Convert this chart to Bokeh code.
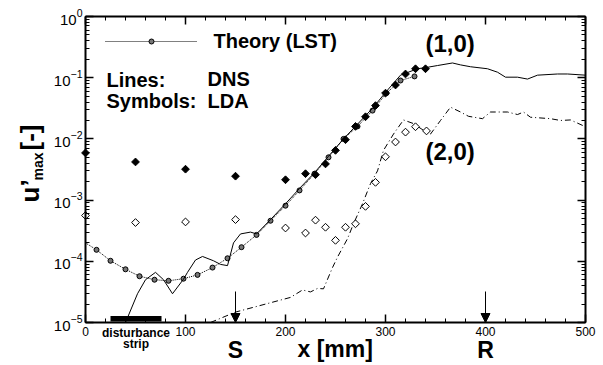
import numpy as np
from bokeh.plotting import figure
from bokeh.models import (LinearAxis, LogAxis, LogTicker, SingleIntervalTicker, Label,
                          Arrow, NormalHead, BoxAnnotation, Range1d)
from bokeh.embed import file_html
from bokeh.resources import INLINE

# ---------------- data ----------------
theory_x = [0, 11, 25, 40, 54, 69, 83, 98, 112, 127, 142, 156, 171, 185, 200, 214,
            229, 243, 258, 272, 287, 301, 315, 329]
theory_y = [2.0e-4, 1.54e-4, 1.02e-4, 7.4e-5, 5.7e-5, 5.0e-5, 4.8e-5, 5.2e-5, 6.0e-5,
            7.9e-5, 1.12e-4, 1.7e-4, 2.7e-4, 4.6e-4, 8.1e-4, 1.44e-3, 2.7e-3, 5.0e-3,
            1.0e-2, 1.6e-2, 2.9e-2, 5.6e-2, 9.0e-2, 1.05e-1]

dns10_x = [40, 52, 60, 70, 78, 87, 98, 102, 110, 117, 128, 135, 142, 148, 155, 165, 171,
           185, 200, 214, 229, 243, 258, 272, 287, 301, 315, 332, 342, 352, 367, 375,
           385, 402, 412, 420, 432, 442, 452, 472, 482, 500]
dns10_y = [1.0e-5, 2.95e-5, 5.0e-5, 6.6e-5, 5.0e-5, 2.95e-5, 5.1e-5, 6.6e-5, 1.05e-4,
           1.2e-4, 1.02e-4, 8.9e-5, 8.5e-5, 2.0e-4, 2.8e-4, 3.0e-4, 2.8e-4,
           4.8e-4, 8.7e-4, 1.55e-3, 2.8e-3, 5.2e-3, 1.0e-2, 1.74e-2, 3.16e-2, 6.0e-2,
           1.1e-1, 1.4e-1, 1.48e-1, 1.58e-1, 1.74e-1, 1.62e-1, 1.51e-1, 1.4e-1, 1.23e-1,
           1.02e-1, 1.02e-1, 9.5e-2, 1.1e-1, 1.15e-1, 1.15e-1, 1.1e-1]

dns20_x = [125, 150, 205, 217, 225, 232, 238, 247, 252, 262, 268, 277, 285, 292, 298,
           308, 318, 328, 338, 345, 355, 365, 375, 383, 397, 405, 422, 432, 438, 445,
           465, 475, 485, 500]
dns20_y = [1.0e-5, 1.48e-5, 2.57e-5, 3.4e-5, 3.16e-5, 3.6e-5, 3.55e-5, 7.9e-5, 1.17e-4,
           2.34e-4, 4.1e-4, 8.7e-4, 1.86e-3, 3.0e-3, 6.5e-3, 1.2e-2, 2.04e-2, 1.78e-2,
           1.38e-2, 1.2e-2, 2.0e-2, 3.3e-2, 2.75e-2, 2.34e-2, 2.14e-2, 2.75e-2, 2.75e-2,
           2.5e-2, 2.75e-2, 2.26e-2, 2.14e-2, 2.0e-2, 2.04e-2, 1.58e-2]

lda10_x = [0, 50, 100, 150, 200, 220, 230, 240, 250, 260, 270, 280, 290, 300, 310, 320, 330, 340]
lda10_y = [5.9e-3, 4.2e-3, 3.2e-3, 2.46e-3, 2.15e-3, 2.7e-3, 2.6e-3, 3.9e-3, 6.5e-3,
           9.7e-3, 1.6e-2, 2.3e-2, 3.5e-2, 5.6e-2, 7.6e-2, 1.15e-1, 1.4e-1, 1.4e-1]

lda20_x = [0, 50, 100, 150, 200, 220, 230, 240, 250, 260, 270, 280, 290, 300, 310, 320, 330, 341]
lda20_y = [5.6e-4, 4.3e-4, 4.4e-4, 4.8e-4, 3.5e-4, 2.9e-4, 4.7e-4, 3.6e-4, 2.2e-4,
           3.6e-4, 4.1e-4, 7.9e-4, 1.95e-3, 5.1e-3, 8.9e-3, 1.29e-2, 1.58e-2, 1.35e-2]

x_bounds = (0, 500)
y_bounds = (1e-5, 1)
strip_x = [25, 76]
marker_x = [150, 400]
marker_labels = ["S", "R"]

# ---------------- layout helpers (pixel -> data) ----------------
W, H = 603, 365
L, T, PX_PER_DEC = 85, 16, 61.2
def X(px):
    return px - L
def Y(py):
    return 10 ** (-(py - T) / PX_PER_DEC)

FONT = "Liberation Sans"
SHIFT = 0.3  # empirical baseline correction (fraction of font size)

p = figure(width=W, height=H, y_axis_type="log",
           x_range=Range1d(X(0), X(W)), y_range=Range1d(Y(H), Y(0)),
           output_backend="svg", toolbar_location=None,
           min_border_left=0, min_border_right=0, min_border_top=0, min_border_bottom=0)
p.xgrid.visible = False
p.ygrid.visible = False
p.outline_line_color = None
p.background_fill_color = "white"
p.border_fill_color = "white"

def style_axis(ax, labels=True, size="12px"):
    ax.axis_line_width = 2
    ax.axis_line_color = "black"
    ax.major_tick_in = 8
    ax.major_tick_out = 0
    ax.minor_tick_in = 4
    ax.minor_tick_out = 0
    ax.major_tick_line_width = 1.5
    ax.minor_tick_line_width = 1
    ax.major_tick_line_color = "black"
    ax.minor_tick_line_color = "black"
    ax.major_label_text_font = FONT
    if labels:
        ax.major_label_text_font_size = size
        ax.major_label_text_color = "black"
    else:
        ax.major_label_text_font_size = "6px"
        ax.major_label_text_color = None
        ax.major_label_standoff = 0

xa = p.xaxis[0]
xa.ticker = SingleIntervalTicker(interval=100, num_minor_ticks=5)
xa.fixed_location = y_bounds[0]
xa.bounds = x_bounds
style_axis(xa, True, "12px")
xa.major_label_standoff = 4

ya = p.yaxis[0]
ya.ticker = LogTicker(num_minor_ticks=10)
ya.fixed_location = x_bounds[0]
ya.bounds = y_bounds
style_axis(ya, True, "15px")
ya.major_label_standoff = 3

top = LinearAxis(ticker=SingleIntervalTicker(interval=100, num_minor_ticks=5),
                 fixed_location=y_bounds[1], bounds=x_bounds)
style_axis(top, False)
p.add_layout(top, "above")
right = LogAxis(ticker=LogTicker(num_minor_ticks=10), fixed_location=x_bounds[1],
                bounds=y_bounds)
style_axis(right, False)
p.add_layout(right, "right")

# ---------------- data marks ----------------
p.line(theory_x, theory_y, line_color="black", line_width=1, line_dash="1 1")
p.scatter(theory_x[1:], theory_y[1:], marker="circle", size=5, fill_color="#777777",
          line_color="black", line_width=1)
p.line(dns10_x, dns10_y, line_color="black", line_width=1)
p.line(dns20_x, dns20_y, line_color="black", line_width=1, line_dash="6 3 1 3")
p.scatter(lda10_x, lda10_y, marker="square", angle=np.pi / 4, size=5.5,
          fill_color="black", line_color="black")
p.scatter(lda20_x, lda20_y, marker="square", angle=np.pi / 4, size=5.5,
          fill_color="white", line_color="black", line_width=1)

# legend sample
p.line([X(105), X(197)], [Y(41), Y(41)], line_color="black", line_width=1, line_dash="1 1")
p.scatter([X(151)], [Y(41)], marker="circle", size=5, fill_color="#777777",
          line_color="black", line_width=1)

def lab(text, px, py, size, align="left", rotated=False):
    if rotated:
        px = px - SHIFT * size
        angle = np.pi / 2
    else:
        py = py - SHIFT * size
        angle = 0
    p.add_layout(Label(x=X(px), y=Y(py), text=text, text_font=FONT,
                       text_font_style="bold", text_font_size=f"{size}px", text_align=align,
                       text_baseline="alphabetic", angle=angle, text_color="black"))

lab("Theory (LST)", 213, 46.5, 20)
lab("Lines:", 106, 85, 20)
lab("Symbols:", 106, 106, 20)
lab("DNS", 207, 84, 20)
lab("LDA", 207, 106, 20)
lab("(1,0)", 425, 50, 24)
lab("(2,0)", 425, 158, 24)
lab("x [mm]", 297, 355, 23)

for mx, ml in zip(marker_x, marker_labels):
    lab(ml, mx + L, 356, 23, align="center")
    p.add_layout(Arrow(x_start=mx, y_start=Y(291), x_end=mx, y_end=y_bounds[0],
                       line_color="black", line_width=1,
                       end=NormalHead(size=9, fill_color="black", line_color="black")))

# disturbance strip
p.add_layout(BoxAnnotation(left=strip_x[0], right=strip_x[1], bottom=Y(321), top=Y(315.5),
                           fill_color="black", fill_alpha=1, line_color=None))
cx = (strip_x[0] + strip_x[1]) / 2
lab("disturbance", cx + L, 336, 12, align="center")
lab("strip", cx + L, 347, 12, align="center")

# y-axis label: u'max [-] rotated
lab("u\u2019", 37, 202, 26, rotated=True)
lab("max", 42, 180, 14, rotated=True)
lab("[-]", 37, 150, 26, rotated=True)

open("out.html", "w").write(file_html(p, INLINE))
